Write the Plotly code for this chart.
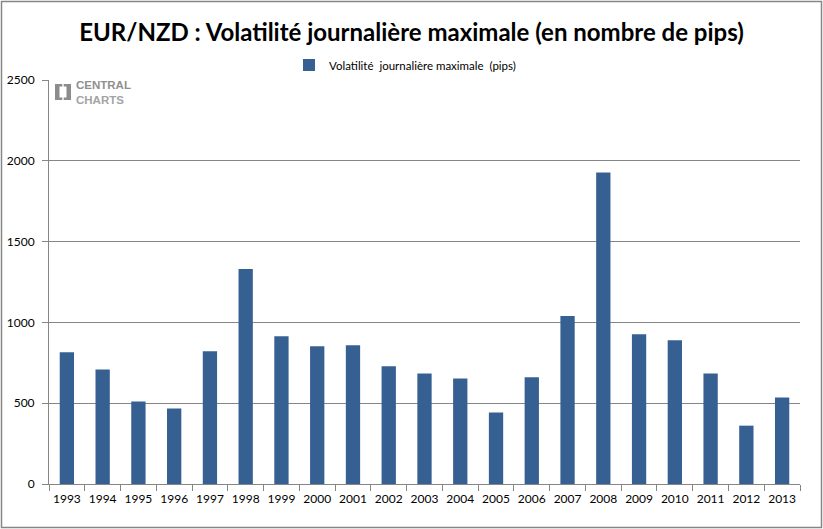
import plotly.graph_objects as go

years = [str(y) for y in range(1993, 2014)]
values = [815, 709, 510, 467, 821, 1330, 915, 852, 859, 728, 684, 653, 442, 660, 1039, 1927, 927, 890, 684, 361, 535]
series_name = "Volatilité  journalière maximale  (pips)"
title_text = "EUR/NZD : Volatilité journalière maximale (en nombre de pips)"
y_ticks = [0, 500, 1000, 1500, 2000, 2500]

bar_color = "#376092"
grid_color = "#868686"

fig = go.Figure()
fig.add_trace(go.Bar(x=years, y=values, name=series_name, marker_color=bar_color,
                     marker_line_width=0))

W, H = 823, 529
L, R, T, B = 49, 23, 80, 45
PW, PH = W - L - R, H - T - B


def px(x):
    return (x - L) / PW


def py(y):
    return 1 - (y - T) / PH


fig.update_layout(
    width=W, height=H,
    margin=dict(l=L, r=R, t=T, b=B, autoexpand=False),
    paper_bgcolor="white", plot_bgcolor="white",
    bargap=0.6,
    font=dict(family="Lato, Open Sans, sans-serif", size=12, color="black"),
    title=dict(text="<b>" + title_text + "</b>", x=0.5, xanchor="center", y=1 - 33 / H, yanchor="middle",
               font=dict(family="Lato, sans-serif", size=24, color="black")),
    showlegend=True,
    legend=dict(orientation="h", x=px(405), xanchor="center", y=py(65), yanchor="middle",
                font=dict(size=11.5, color="black"), itemwidth=30, bgcolor="rgba(0,0,0,0)"),
    xaxis=dict(type="category", showline=True, linecolor=grid_color, linewidth=1,
               ticks="outside", ticklen=6, tickcolor=grid_color, tickson="boundaries",
               tickangle=0, showgrid=False, tickfont=dict(size=12), ticklabelstandoff=4,
               automargin=False, fixedrange=True),
    yaxis=dict(range=[0, 2500], tickvals=y_ticks, showline=True, linecolor=grid_color, linewidth=1,
               ticks="outside", ticklen=6, tickcolor=grid_color, showgrid=True, gridcolor=grid_color,
               gridwidth=1, zeroline=False, tickfont=dict(size=12), ticklabelstandoff=5,
               automargin=False, fixedrange=True),
)

# outer border
fig.add_shape(type="rect", xref="paper", yref="paper",
              x0=px(1.5), x1=px(W - 1.5), y0=py(H - 1.5), y1=py(1.5),
              line=dict(color="#868686", width=1.5), fillcolor="rgba(0,0,0,0)", layer="below")

# watermark logo icon
fig.add_shape(type="rect", xref="paper", yref="paper", x0=px(55), x1=px(71), y0=py(100), y1=py(84),
              line_width=0, fillcolor="#8c8c8c", layer="below")
fig.add_shape(type="rect", xref="paper", yref="paper", x0=px(59.5), x1=px(66.5), y0=py(97.5), y1=py(86.5),
              line_width=0, fillcolor="white", layer="below")
fig.add_shape(type="rect", xref="paper", yref="paper", x0=px(62.3), x1=px(63.7), y0=py(100), y1=py(84),
              line_width=0, fillcolor="white", layer="below")
fig.add_annotation(xref="paper", yref="paper", x=px(74), y=py(92), xanchor="left", yanchor="middle",
                   showarrow=False, align="left",
                   text="<b>CENTRAL</b><br><b><span style='color:#a3a3a3'>CHARTS</span></b>",
                   font=dict(family="Liberation Sans, Arial, sans-serif", size=11.5, color="#8f8f8f"))

fig.write_html("out.html", config={"displayModeBar": False},
               post_script="document.body.style.margin='0';")
